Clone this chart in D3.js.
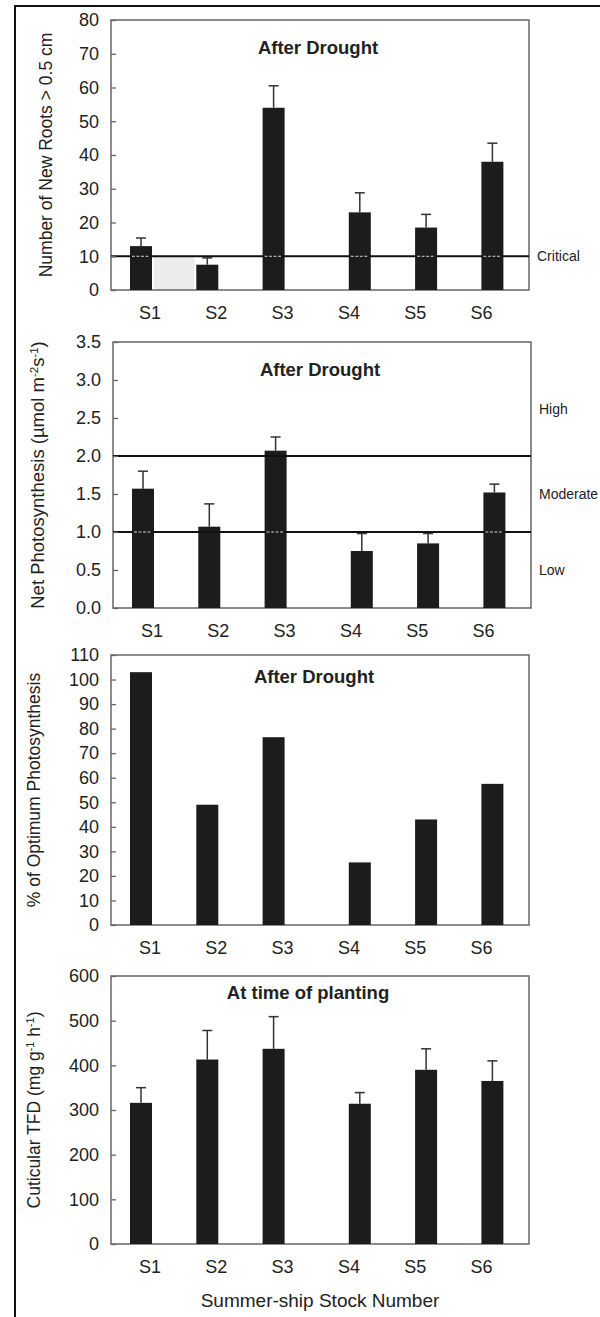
<!DOCTYPE html>
<html>
<head>
<meta charset="utf-8">
<script src="https://cdn.jsdelivr.net/npm/d3@7"></script>
<style>
  body { margin: 0; background: #fff; }
  text { font-family: "Liberation Sans", Arial, sans-serif; fill: #222; }
</style>
</head>
<body>
<script>
const width = 600, height = 1317;

// stock numbers
const stocks = ["S1", "S2", "S3", "S4", "S5", "S6"];

// new roots > 0.5 cm after drought (mean, +SE)
const roots = [13, 7.5, 54, 23, 18.5, 38];
const rootsErr = [2.4, 2, 6.5, 5.8, 3.9, 5.5];
const rootsTicks = [0, 10, 20, 30, 40, 50, 60, 70, 80];

// net photosynthesis after drought
const photo = [1.57, 1.07, 2.07, 0.75, 0.85, 1.52];
const photoErr = [0.23, 0.3, 0.18, 0.23, 0.13, 0.11];
const photoTicks = [0, 0.5, 1, 1.5, 2, 2.5, 3, 3.5];

// % of optimum photosynthesis
const optimum = [103, 49, 76.5, 25.5, 43, 57.5];
const optimumTicks = [0, 10, 20, 30, 40, 50, 60, 70, 80, 90, 100, 110];

// cuticular TFD at planting
const tfd = [316, 413, 437, 314, 390, 365];
const tfdErr = [34, 65, 72, 25, 47, 45];
const tfdTicks = [0, 100, 200, 300, 400, 500, 600];

// reference levels
const rootLevels = [{ v: 10, label: "Critical", at: 10 }];
const photoLevels = [{ v: 2, label: "High", at: 2.62 }, { v: 1, label: "Moderate", at: 1.5 }, { v: 1, label: "Low", at: 0.5 }];

const svg = d3.select("body").append("svg")
  .attr("width", width)
  .attr("height", height);

// outer frame (left + top only, like the scan)
svg.append("path")
  .attr("d", "M15,1317V6H600")
  .attr("fill", "none")
  .attr("stroke", "#111")
  .attr("stroke-width", 2);

const panels = [
  { values: roots, err: rootsErr, ticks: rootsTicks, fmt: d3.format("d"), top: 20, bottom: 290, dx: 0,
    title: "After Drought", titleX: 318, titleY: 48, yTitleX: 46, yTitleSize: 17.5,
    yTitle: [["Number of New Roots > 0.5 cm"]], levels: rootLevels, shade: true },
  { values: photo, err: photoErr, ticks: photoTicks, fmt: d3.format(".1f"), top: 342, bottom: 608, dx: 2,
    title: "After Drought", titleX: 320, titleY: 370, yTitleX: 38, yTitleSize: 18.5,
    yTitle: [["Net Photosynthesis (µmol m"], ["-2", true], ["s"], ["-1", true], [")"]], levels: photoLevels },
  { values: optimum, err: null, ticks: optimumTicks, fmt: d3.format("d"), top: 655, bottom: 925, dx: 0,
    title: "After Drought", titleX: 314, titleY: 677, yTitleX: 34, yTitleSize: 17.5,
    yTitle: [["% of Optimum Photosynthesis"]], levels: [] },
  { values: tfd, err: tfdErr, ticks: tfdTicks, fmt: d3.format("d"), top: 976, bottom: 1244, dx: 0,
    title: "At time of planting", titleX: 308, titleY: 993, yTitleX: 34, yTitleSize: 17.5,
    yTitle: [["Cuticular TFD (mg g"], ["-1", true], [" h"], ["-1", true], [")"]], levels: [] }
];

const barW = 22;

panels.forEach(function (p) {
  const left = 111 + p.dx, right = 529 + p.dx;
  const g = svg.append("g");

  const y = d3.scaleLinear()
    .domain([0, d3.max(p.ticks)])
    .range([p.bottom, p.top]);

  // bar slots: a wider gap between S3 and S4
  const slot = d3.scaleLinear().domain([0, 5.3]).range([left + 30, left + 30 + 351.4]);
  const barX = function (i) { return slot(i + (i >= 3 ? 0.3 : 0)); };
  const xLab = d3.scalePoint().domain(stocks).range([left + 39, left + 39 + 331.5]);

  if (p.shade) {
    g.append("rect")
      .attr("x", barX(0) + barW / 2 + 2)
      .attr("width", barX(1) - barX(0) - barW - 4)
      .attr("y", y(p.levels[0].v))
      .attr("height", y(0) - y(p.levels[0].v))
      .attr("fill", "#ececec");
  }

  // frame
  g.append("rect")
    .attr("x", left).attr("y", p.top)
    .attr("width", right - left).attr("height", p.bottom - p.top)
    .attr("fill", "none")
    .attr("stroke", "#666")
    .attr("stroke-width", 1.5);

  // error bars
  if (p.err) {
    const eb = g.selectAll(".err").data(p.values).join("g");
    eb.append("line")
      .attr("x1", function (d, i) { return barX(i); })
      .attr("x2", function (d, i) { return barX(i); })
      .attr("y1", function (d) { return y(d); })
      .attr("y2", function (d, i) { return y(d + p.err[i]); })
      .attr("stroke", "#333").attr("stroke-width", 1.5);
    eb.append("line")
      .attr("x1", function (d, i) { return barX(i) - 5; })
      .attr("x2", function (d, i) { return barX(i) + 5; })
      .attr("y1", function (d, i) { return y(d + p.err[i]); })
      .attr("y2", function (d, i) { return y(d + p.err[i]); })
      .attr("stroke", "#333").attr("stroke-width", 1.5);
  }

  // bars
  g.selectAll(".bar").data(p.values).join("rect")
    .attr("x", function (d, i) { return barX(i) - barW / 2; })
    .attr("width", barW)
    .attr("y", function (d) { return y(d); })
    .attr("height", function (d) { return y(0) - y(d); })
    .attr("fill", "#1c1c1c");

  // reference lines
  const lines = Array.from(new Set(p.levels.map(function (l) { return l.v; })));
  lines.forEach(function (v) {
    g.append("line")
      .attr("x1", left).attr("x2", right)
      .attr("y1", y(v)).attr("y2", y(v))
      .attr("stroke", "#111").attr("stroke-width", 2);
    // the line shows white through the dark bars
    p.values.forEach(function (d, i) {
      if (d > v + 0.02 * d3.max(p.ticks)) {
        g.append("line")
          .attr("x1", barX(i) - barW / 2 + 2).attr("x2", barX(i) + barW / 2 - 2)
          .attr("y1", y(v)).attr("y2", y(v))
          .attr("stroke", "#ddd").attr("stroke-width", 1)
          .attr("stroke-dasharray", "3,1.5");
      }
    });
  });
  g.selectAll(".lvl").data(p.levels).join("text")
    .attr("x", right + 8)
    .attr("y", function (d) { return y(d.at); })
    .attr("dy", "0.35em")
    .attr("font-size", 14)
    .text(function (d) { return d.label; });

  // y axis, ticks pointing inward
  const ax = g.append("g")
    .attr("transform", "translate(" + left + ",0)")
    .call(d3.axisLeft(y).tickValues(p.ticks).tickFormat(p.fmt).tickSize(-5).tickPadding(12));
  ax.select(".domain").remove();
  ax.selectAll("line").attr("stroke", "#666").attr("stroke-width", 1.3);
  ax.selectAll("text").attr("font-size", 18).attr("fill", "#333")
    .attr("font-family", "'Liberation Sans', Arial, sans-serif");

  // x labels
  g.selectAll(".xl").data(stocks).join("text")
    .attr("x", function (d) { return xLab(d); })
    .attr("y", p.bottom + 23)
    .attr("dy", "0.35em")
    .attr("text-anchor", "middle")
    .attr("font-size", 18)
    .text(function (d) { return d; });

  // panel title
  g.append("text")
    .attr("x", p.titleX).attr("y", p.titleY)
    .attr("dy", "0.35em")
    .attr("text-anchor", "middle")
    .attr("font-size", 18.5)
    .attr("font-weight", "bold")
    .text(p.title);

  // y title
  const yt = g.append("text")
    .attr("transform", "translate(" + p.yTitleX + "," + ((p.top + p.bottom) / 2) + ") rotate(-90)")
    .attr("dy", "0.35em")
    .attr("text-anchor", "middle")
    .attr("font-size", p.yTitleSize)
    .attr("fill", "#333");
  p.yTitle.forEach(function (part) {
    const t = yt.append("tspan").text(part[0]);
    if (part[1]) t.attr("font-size", p.yTitleSize * 0.62).attr("baseline-shift", "super");
  });
});

// x axis title
svg.append("text")
  .attr("x", 320).attr("y", 1300)
  .attr("dy", "0.35em")
  .attr("text-anchor", "middle")
  .attr("font-size", 19)
  .attr("fill", "#333")
  .text("Summer-ship Stock Number");
</script>
</body>
</html>
